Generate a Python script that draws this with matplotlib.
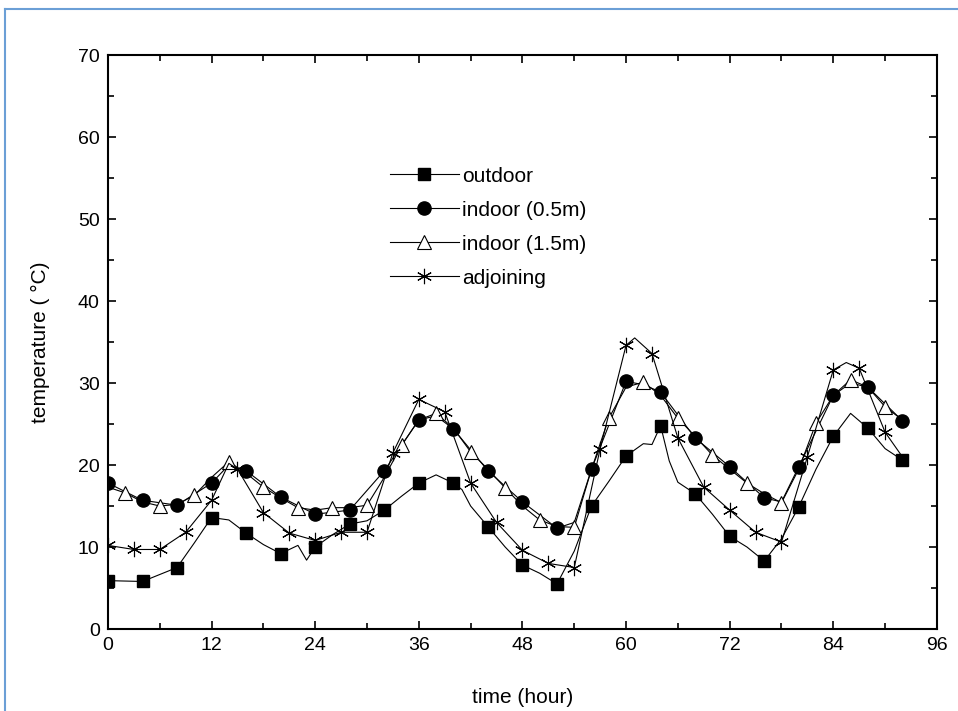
import matplotlib
matplotlib.use("Agg")
import matplotlib.pyplot as plt
from matplotlib.lines import Line2D
from matplotlib.ticker import MultipleLocator

plt.rcParams['font.family'] = ['Liberation Sans', 'DejaVu Sans']

# outdoor (filled squares, marker every 4 h)
out_hours = [0, 4, 8, 10, 12, 14, 16, 18, 20, 22, 23, 24, 26, 28, 30, 32, 34, 36, 38,
             40, 41, 42, 44, 46, 48, 50, 52, 54, 56, 58, 60, 62, 63, 64, 65, 66, 68,
             70, 72, 74, 76, 78, 80, 82, 84, 86, 88, 90, 92]
out_temp = [5.9, 5.8, 7.5, 10.5, 13.6, 13.3, 11.7, 10.3, 9.2, 10.2, 8.4, 10.0, 11.5,
            12.8, 13.2, 14.5, 16.2, 17.8, 18.8, 17.8, 17.0, 15.0, 12.5, 10.0, 7.8,
            6.8, 5.5, 9.5, 15.0, 18.0, 21.1, 22.6, 22.5, 24.8, 20.5, 17.9, 16.5, 14.0,
            11.3, 10.0, 8.3, 11.0, 14.9, 19.5, 23.5, 26.3, 24.5, 22.0, 20.6]

# indoor 0.5 m (filled circles, marker every 4 h)
in05_hours = [0, 4, 8, 12, 14, 16, 20, 24, 28, 32, 36, 38, 40, 44, 48, 52, 54, 56,
              60, 62, 64, 68, 72, 76, 78, 80, 84, 86, 88, 92]
in05_temp = [17.8, 15.7, 15.1, 17.8, 20.0, 19.3, 16.1, 14.0, 14.5, 19.3, 25.5, 26.0,
             24.4, 19.3, 15.5, 12.3, 13.0, 19.5, 30.2, 29.8, 28.9, 23.3, 19.8, 16.0,
             15.5, 19.8, 28.5, 30.0, 29.5, 25.4]

# indoor 1.5 m (open triangles, marker every 4 h starting at 2 h)
in15_hours = list(range(0, 93, 2))
in15_temp = [17.3, 16.6, 15.5, 15.0, 15.2, 16.3, 18.5, 20.4, 19.0, 17.3, 16.0, 14.8,
             14.5, 14.8, 14.8, 15.1, 18.5, 22.4, 25.5, 26.3, 24.5, 21.6, 19.5, 17.2,
             15.0, 13.3, 12.5, 12.4, 19.5, 25.7, 29.5, 30.1, 28.5, 25.7, 23.5, 21.2,
             19.5, 17.8, 16.5, 15.4, 19.5, 25.1, 28.5, 30.4, 29.5, 27.1, 25.5]

# adjoining room (asterisks, marker every 3 h)
adj_hours = [0, 3, 6, 9, 12, 14, 15, 18, 21, 24, 27, 30, 33, 36, 39, 42, 45, 48, 51,
             54, 57, 60, 61, 63, 66, 69, 72, 75, 78, 81, 84, 85.5, 87, 90, 92]
adj_temp = [10.2, 9.7, 9.7, 11.8, 15.7, 20.2, 19.5, 14.2, 11.7, 10.8, 11.8, 11.8,
            21.5, 28.0, 26.5, 17.8, 13.0, 9.6, 8.0, 7.5, 22.0, 34.6, 35.5, 33.6,
            23.3, 17.3, 14.5, 11.8, 10.6, 21.0, 31.6, 32.5, 31.8, 24.0, 21.0]

labels = ["outdoor", "indoor (0.5m)", "indoor (1.5m)", "adjoining"]


def marks(hours, step, start=0):
    return [i for i, h in enumerate(hours) if h >= start and (h - start) % step == 0]


fig = plt.figure(figsize=(9.58, 7.11), dpi=100)
fig.patch.set_facecolor("white")
ax = fig.add_axes([0.1127, 0.1153, 0.8653, 0.8073])

# blue frame of the screenshot
fig.add_artist(Line2D([0.005, 1.0], [0.987, 0.987], color="#6b9fd6", lw=1.5,
                      transform=fig.transFigure))
fig.add_artist(Line2D([0.005, 0.005], [0.0, 0.987], color="#6b9fd6", lw=1.5,
                      transform=fig.transFigure))

lw = 0.8
ax.plot(out_hours, out_temp, color="black", lw=lw, marker="s", ms=8.5,
        mfc="black", mec="black", markevery=marks(out_hours, 4))
ax.plot(in05_hours, in05_temp, color="black", lw=lw, marker="o", ms=9.5,
        mfc="black", mec="black", markevery=marks(in05_hours, 4))
ax.plot(in15_hours, in15_temp, color="black", lw=lw, marker="^", ms=9.5,
        mfc="white", mec="black", mew=0.8, markevery=marks(in15_hours, 4, 2))
ax.plot(adj_hours, adj_temp, color="black", lw=lw, marker=(6, 2, 0), ms=11,
        mec="black", mew=0.8, markevery=marks(adj_hours, 3))

handles = [
    Line2D([], [], color="black", lw=lw, marker="s", ms=8.5, mfc="black"),
    Line2D([], [], color="black", lw=lw, marker="o", ms=9.5, mfc="black"),
    Line2D([], [], color="black", lw=lw, marker="^", ms=9.5, mfc="white", mew=0.8),
    Line2D([], [], color="black", lw=lw, marker=(6, 2, 0), ms=11, mew=0.8),
]
ax.legend(handles, labels, loc="upper left", bbox_to_anchor=(0.33, 0.82),
          frameon=False, fontsize=15, handlelength=3.3, labelspacing=0.72,
          handletextpad=0.15, borderaxespad=0)

ax.set_xlim(0, 96)
ax.set_ylim(0, 70)
ax.xaxis.set_major_locator(MultipleLocator(12))
ax.xaxis.set_minor_locator(MultipleLocator(6))
ax.yaxis.set_major_locator(MultipleLocator(10))
ax.yaxis.set_minor_locator(MultipleLocator(5))
ax.tick_params(which="both", direction="in", top=True, right=True,
               labelsize=14, width=1.2)
ax.tick_params(which="major", length=6, pad=6)
ax.tick_params(which="minor", length=4)
for sp in ax.spines.values():
    sp.set_linewidth(1.5)

ax.set_xlabel("time (hour)", fontsize=15, labelpad=24)
ax.set_ylabel("temperature ( °C)", fontsize=15, labelpad=20)

fig.savefig("out.png", dpi=100)
